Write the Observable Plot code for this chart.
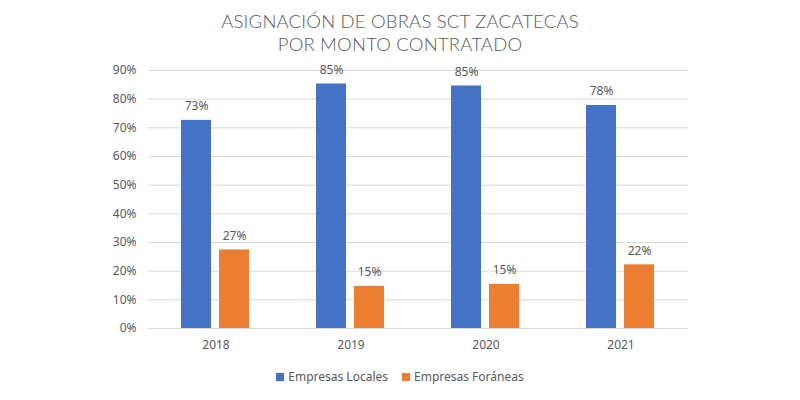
<!DOCTYPE html>
<html><head><meta charset="utf-8">
<script src="https://cdn.jsdelivr.net/npm/d3@7"></script>
<script src="https://cdn.jsdelivr.net/npm/@observablehq/plot@0.6"></script>
<style>
body{margin:0;background:#fff;font-family:"Noto Sans",sans-serif;}
#wrap{width:800px;height:400px;position:relative;overflow:hidden;background:#fff}
#title{position:absolute;top:10px;left:0;width:800px;text-align:center;font-family:"Lato",sans-serif;font-weight:300;font-size:18.5px;line-height:23px;color:#595959;letter-spacing:0.2px}
#chart{position:absolute;top:58px;left:0}
#legend{position:absolute;top:368px;left:0;width:800px;display:flex;justify-content:center;gap:14px;font-size:12px;color:#595959;line-height:18px}
#legend span.item{display:flex;align-items:center}
#legend i{display:inline-block;width:8px;height:8px;margin-right:4px}
</style></head>
<body><div id="wrap">
<div id="title">ASIGNACIÓN DE OBRAS SCT ZACATECAS<br>POR MONTO CONTRATADO</div>
<div id="chart"></div>
<div id="legend"></div>
</div>
<script>
const years = ["2018", "2019", "2020", "2021"];
const series = ["Empresas Locales", "Empresas Foráneas"];
const locales = [72.6, 85.3, 84.6, 77.8];
const foraneas = [27.4, 14.7, 15.4, 22.2];
const yTicks = [0, 10, 20, 30, 40, 50, 60, 70, 80, 90];
const colors = ["#4472C4", "#ED7D31"];

const data = [];
years.forEach((y, i) => {
  data.push({year: y, series: series[0], value: locales[i]});
  data.push({year: y, series: series[1], value: foraneas[i]});
});

const chart = Plot.plot({
  width: 800,
  height: 302,
  marginTop: 12,
  marginBottom: 32,
  marginLeft: 147,
  marginRight: 112,
  style: {fontFamily: "Noto Sans", fontSize: "12px", color: "#595959", background: "#fff"},
  fx: {domain: years, padding: 0, label: null, axis: "bottom", tickSize: 0, tickPadding: 12},
  x: {domain: series, axis: null, paddingInner: 0.21, paddingOuter: 0.88},
  y: {domain: [0, 90], ticks: yTicks, tickFormat: d => d + "%", tickSize: 0, tickPadding: 12, label: null},
  color: {domain: series, range: colors},
  marks: [
    Plot.gridY(yTicks, {stroke: "#d9d9d9", strokeOpacity: 1}),
    Plot.barY(data, {fx: "year", x: "series", y: "value", fill: "series"}),
    Plot.text(data, {fx: "year", x: "series", y: "value", text: d => Math.round(d.value) + "%", dy: -14, fill: "#595959", fontSize: 12})
  ]
});
document.getElementById("chart").appendChild(chart);

const leg = document.getElementById("legend");
series.forEach((s, i) => {
  const it = document.createElement("span");
  it.className = "item";
  it.innerHTML = `<i style="background:${colors[i]}"></i>${s}`;
  leg.appendChild(it);
});
</script>
</body></html>
